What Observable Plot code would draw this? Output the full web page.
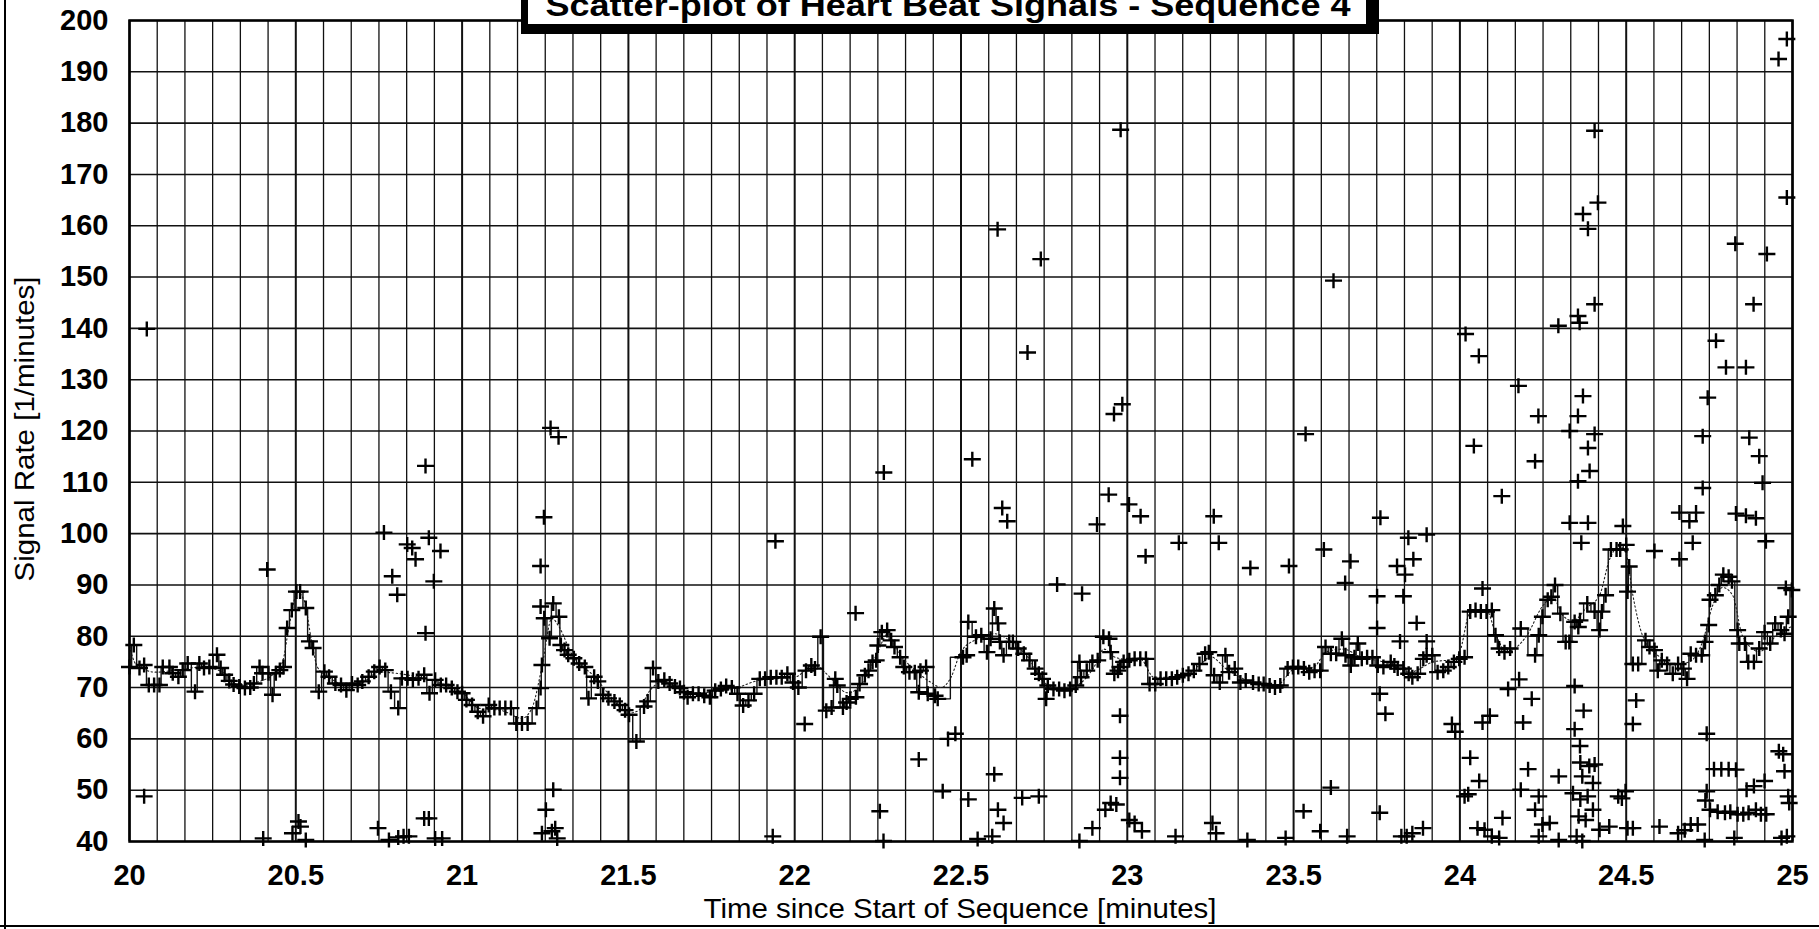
<!DOCTYPE html>
<html><head><meta charset="utf-8">
<script src="https://cdn.jsdelivr.net/npm/d3@7"></script>
<script src="https://cdn.jsdelivr.net/npm/@observablehq/plot@0.6"></script>
<style>
html,body{margin:0;padding:0;background:#fff;}
#chart{position:relative;width:1819px;height:929px;overflow:hidden;background:#fff;}
</style></head><body><div id="chart"></div>
<script>
const titleText = "Scatter-plot of Heart Beat Signals - Sequence 4";
const xAxisTitle = "Time since Start of Sequence [minutes]";
const yAxisTitle = "Signal Rate [1/minutes]";
const xTickValues = [20, 20.5, 21, 21.5, 22, 22.5, 23, 23.5, 24, 24.5, 25];
const xTickLabels = ["20", "20.5", "21", "21.5", "22", "22.5", "23", "23.5", "24", "24.5", "25"];
const yTickValues = [40, 50, 60, 70, 80, 90, 100, 110, 120, 130, 140, 150, 160, 170, 180, 190, 200];
const gridStepsPerMinute = 12; // vertical grid every 5 seconds

// accepted beats [time (min), rate (1/min)]
const mainBeats = [
[20.000,74.0],[20.013,78.3],[20.030,73.8],[20.044,74.4],[20.058,70.5],[20.074,70.5],[20.090,70.5],[20.100,74.0],
[20.120,74.0],[20.130,72.8],[20.147,72.1],[20.160,73.4],[20.175,74.7],[20.197,69.2],[20.210,74.7],[20.224,73.8],
[20.240,74.0],[20.263,76.4],[20.274,73.8],[20.286,72.5],[20.300,71.3],[20.313,70.6],[20.330,70.2],[20.347,69.9],
[20.363,70.0],[20.374,70.8],[20.391,74.0],[20.400,72.8],[20.418,72.8],[20.430,68.6],[20.440,72.8],[20.452,73.4],
[20.463,74.0],[20.474,81.6],[20.488,85.1],[20.502,88.7],[20.513,88.7],[20.530,85.5],[20.541,79.0],[20.552,77.7],
[20.569,69.2],[20.586,73.1],[20.600,72.1],[20.619,70.8],[20.636,70.5],[20.652,69.5],[20.669,70.8],[20.686,70.5],
[20.700,71.2],[20.719,72.1],[20.736,73.1],[20.752,74.0],[20.769,73.4],[20.786,69.2],[20.808,66.0],[20.819,71.8],
[20.836,71.8],[20.852,71.5],[20.869,71.8],[20.886,72.5],[20.902,68.9],[20.919,71.5],[20.936,70.5],[20.952,70.5],
[20.969,69.9],[20.986,69.2],[21.000,68.9],[21.013,67.6],[21.030,66.6],[21.047,65.3],[21.063,64.4],[21.080,66.6],
[21.097,66.0],[21.113,66.0],[21.130,66.0],[21.147,66.0],[21.163,63.0],[21.180,63.0],[21.197,63.0],[21.224,66.0],
[21.236,69.9],[21.240,74.4],[21.247,83.5],[21.263,79.6],[21.274,86.4],[21.291,83.8],[21.297,78.3],[21.308,77.3],
[21.319,76.4],[21.336,75.7],[21.352,74.7],[21.369,74.0],[21.380,67.9],[21.397,72.1],[21.408,71.2],[21.424,68.6],
[21.440,67.9],[21.458,67.3],[21.474,66.6],[21.490,65.6],[21.502,64.7],[21.524,59.5],[21.547,66.3],[21.558,67.3],
[21.574,73.8],[21.590,71.2],[21.608,71.5],[21.624,70.8],[21.640,70.2],[21.655,69.9],[21.667,69.1],[21.678,68.1],
[21.694,68.8],[21.711,68.8],[21.728,68.4],[21.745,68.1],[21.761,69.4],[21.778,69.7],[21.794,70.3],[21.811,70.0],
[21.828,68.8],[21.845,66.5],[21.861,67.5],[21.878,68.8],[21.895,71.7],[21.911,71.7],[21.928,72.0],[21.945,72.0],
[21.961,72.0],[21.978,72.7],[21.995,71.0],[22.011,70.0],[22.034,73.3],[22.050,74.3],[22.061,73.7],[22.078,79.9],
[22.095,65.5],[22.111,66.1],[22.122,71.7],[22.128,70.4],[22.145,66.1],[22.156,67.1],[22.167,67.8],[22.184,68.1],
[22.195,70.7],[22.211,72.4],[22.222,73.3],[22.234,75.0],[22.245,75.3],[22.250,78.2],[22.262,80.8],[22.278,81.2],
[22.290,79.2],[22.300,77.9],[22.317,75.9],[22.328,74.0],[22.345,73.0],[22.361,73.0],[22.373,69.1],[22.378,73.3],
[22.395,74.0],[22.400,68.8],[22.422,68.4],[22.430,67.8],[22.506,75.9],[22.517,76.3],[22.522,82.8],[22.545,79.9],
[22.561,80.2],[22.578,76.9],[22.589,79.5],[22.600,85.4],[22.611,82.5],[22.617,78.9],[22.628,76.3],[22.645,78.9],
[22.656,78.9],[22.672,77.6],[22.689,76.6],[22.706,75.3],[22.723,73.7],[22.734,72.7],[22.745,71.7],[22.756,67.8],
[22.761,70.4],[22.778,69.7],[22.795,69.7],[22.811,69.4],[22.828,69.7],[22.845,70.4],[22.856,75.0],[22.861,72.0],
[22.878,73.3],[22.895,75.0],[22.911,75.3],[22.928,79.9],[22.945,79.5],[22.950,76.9],[22.961,72.7],[22.972,73.3],
[22.978,74.0],[22.989,75.0],[23.006,75.3],[23.022,75.6],[23.039,75.6],[23.056,75.6],[23.067,70.7],[23.084,70.7],
[23.100,71.7],[23.117,71.7],[23.134,71.7],[23.150,72.0],[23.167,72.4],[23.184,72.7],[23.200,73.3],[23.217,74.6],
[23.234,76.6],[23.245,76.9],[23.261,72.4],[23.278,71.0],[23.295,76.3],[23.306,73.0],[23.323,73.7],[23.340,71.0],
[23.356,71.4],[23.378,71.0],[23.395,70.7],[23.410,70.7],[23.428,70.4],[23.444,70.0],[23.460,70.4],[23.482,73.7],
[23.498,74.0],[23.514,74.0],[23.531,73.7],[23.547,73.0],[23.563,73.3],[23.580,73.3],[23.596,77.9],[23.612,76.6],
[23.628,76.6],[23.645,79.5],[23.656,76.3],[23.672,74.3],[23.683,75.9],[23.693,78.6],[23.705,75.6],[23.721,75.9],
[23.737,75.9],[23.753,74.3],[23.770,74.0],[23.792,75.0],[23.803,74.3],[23.813,73.7],[23.830,73.7],[23.846,72.7],
[23.857,72.0],[23.873,72.7],[23.890,75.6],[23.900,76.3],[23.917,76.3],[23.933,73.0],[23.950,73.3],[23.965,74.0],
[23.982,75.0],[23.998,75.6],[24.014,75.9],[24.031,84.8],[24.047,85.1],[24.063,84.8],[24.080,84.8],[24.096,85.1],
[24.107,80.2],[24.118,77.6],[24.134,76.9],[24.151,77.6],[24.183,81.5],[24.226,76.3],[24.237,80.2],[24.248,83.8],
[24.264,87.1],[24.275,87.7],[24.286,90.0],[24.302,84.4],[24.318,78.9],[24.329,78.9],[24.345,82.8],[24.356,81.8],
[24.361,83.1],[24.383,86.4],[24.405,84.8],[24.420,81.2],[24.427,84.8],[24.438,88.0],[24.454,96.9],[24.471,96.9],
[24.482,96.9],[24.500,97.8],[24.504,88.7],[24.509,93.6],[24.520,74.6],[24.536,74.6],[24.558,79.2],[24.570,77.9],
[24.585,77.3],[24.595,73.3],[24.607,75.3],[24.623,74.6],[24.640,72.7],[24.656,74.6],[24.672,73.7],[24.683,71.7],
[24.694,76.6],[24.710,76.3],[24.727,76.3],[24.737,78.9],[24.748,82.2],[24.752,87.1],[24.768,88.0],[24.780,90.0],
[24.792,92.0],[24.808,91.6],[24.818,90.7],[24.835,81.2],[24.840,78.6],[24.857,78.6],[24.867,75.0],[24.884,75.0],
[24.900,77.6],[24.916,80.8],[24.933,78.6],[24.948,82.5],[24.965,81.2],[24.976,80.5],[24.987,83.8],[24.998,89.0]
];

// rejected / artefact detections [time (min), rate (1/min)]
const outlierBeats = [
[20.052,139.9],[20.765,100.2],[20.890,113.2],[20.900,99.2],[21.266,120.6],[21.290,118.8],[21.246,103.2],[22.268,111.9],
[22.534,114.5],[22.610,159.3],[22.624,105.0],[22.639,102.4],[22.700,135.3],[22.740,153.5],[22.909,101.8],[22.944,107.6],
[22.960,123.3],[22.985,125.2],[22.980,178.7],[23.005,105.7],[23.040,103.4],[23.260,103.4],[23.536,119.4],[23.620,149.3],
[23.761,103.1],[23.845,99.2],[23.900,99.8],[24.017,138.9],[24.057,134.6],[24.042,117.1],[24.126,107.3],[24.176,128.8],
[24.236,122.9],[24.226,114.1],[24.296,140.5],[24.360,141.1],[24.370,126.8],[24.355,122.9],[24.330,120.0],[24.405,119.4],
[24.385,116.7],[24.390,112.2],[24.355,110.2],[24.330,102.1],[24.385,102.1],[24.490,101.5],[24.405,178.5],[24.415,164.5],
[24.370,162.3],[24.385,159.4],[24.405,144.7],[24.355,142.4],[24.660,104.1],[24.710,104.1],[24.690,102.4],[24.770,137.6],
[24.800,132.4],[24.860,132.4],[24.745,126.5],[24.730,119.0],[24.730,108.9],[24.870,118.7],[24.900,115.1],[24.910,109.9],
[24.830,103.9],[24.860,103.5],[24.890,103.0],[24.828,156.5],[24.923,154.5],[24.883,144.7],[24.958,192.5],[24.983,196.4],
[24.983,165.5],
[20.414,93.0],[20.835,97.9],[20.850,97.2],[20.860,95.0],[20.935,96.6],[20.915,90.7],[20.790,91.7],[20.805,88.1],
[20.890,80.6],[21.236,93.7],[21.236,85.8],[21.942,98.5],[22.183,84.5],[22.789,90.1],[22.864,88.3],[23.055,95.6],
[23.155,98.2],[23.275,98.2],[23.370,93.3],[23.486,93.7],[23.591,96.9],[23.671,94.6],[23.751,87.8],[23.751,81.6],
[23.811,93.7],[23.655,90.4],[23.860,95.0],[23.835,92.0],[23.830,87.8],[23.870,82.6],[23.820,79.0],[23.900,79.0],
[24.068,89.3],[24.585,96.6],[24.700,98.2],[24.660,95.0],[24.920,98.5],[24.980,89.4],[24.365,98.2],
[20.044,48.8],[20.402,40.6],[20.490,41.6],[20.508,43.9],[20.514,42.9],[20.530,40.3],[20.747,42.6],[20.780,40.3],
[20.808,40.8],[20.824,41.0],[20.840,41.0],[20.886,44.5],[20.900,44.5],[20.919,40.6],[20.940,40.6],[21.274,50.1],
[21.252,46.2],[21.240,41.6],[21.270,42.0],[21.286,40.6],[21.280,42.6],[21.934,41.0],[22.030,62.9],[22.256,45.9],
[22.267,40.1],[22.373,56.0],[22.445,49.8],[22.461,60.0],[22.483,61.0],[22.522,48.2],[22.550,40.5],[22.594,41.0],
[22.600,53.1],[22.611,46.2],[22.628,43.6],[22.684,48.5],[22.734,48.8],[22.856,40.1],[22.895,42.6],[22.934,46.2],
[22.950,47.5],[22.967,47.2],[22.978,64.5],[22.978,56.3],[22.978,52.4],[23.006,44.2],[23.022,43.6],[23.044,42.0],
[23.145,41.0],[23.256,43.6],[23.267,41.6],[23.361,40.3],[23.476,40.7],[23.530,45.9],[23.580,42.0],[23.612,50.5],
[23.661,41.0],[23.759,68.8],[23.776,64.9],[23.759,45.6],[23.824,41.0],[23.840,41.0],[23.857,41.6],[23.889,42.6],
[23.976,62.9],[23.986,61.4],[24.031,56.3],[24.058,51.8],[24.025,49.2],[24.014,48.8],[24.068,63.2],[24.090,64.5],
[24.145,69.7],[24.178,71.6],[24.216,67.8],[24.190,63.2],[24.205,54.1],[24.183,50.1],[24.237,48.8],[24.226,46.2],
[24.128,44.6],[24.053,42.6],[24.074,42.3],[24.096,41.0],[24.118,40.7],[24.248,43.3],[24.270,43.6],[24.237,41.0],
[24.297,40.3],[24.297,52.7],[24.345,70.3],[24.372,65.5],[24.345,61.9],[24.361,58.6],[24.520,62.9],[24.530,67.5],
[24.742,61.0],[24.362,55.4],[24.389,54.7],[24.405,55.0],[24.368,52.7],[24.400,51.4],[24.362,48.2],[24.384,48.8],
[24.357,44.9],[24.378,44.2],[24.400,46.2],[24.351,41.0],[24.368,40.1],[24.420,42.3],[24.449,42.9],[24.340,49.4],
[24.476,48.8],[24.487,48.4],[24.498,49.8],[24.504,42.6],[24.520,42.6],[24.600,42.9],[24.656,41.6],[24.676,42.2],
[24.694,43.3],[24.715,43.3],[24.742,49.8],[24.738,48.0],[24.764,54.1],[24.786,54.1],[24.808,54.1],[24.830,54.0],
[24.752,46.2],[24.775,45.8],[24.797,45.6],[24.813,45.8],[24.835,45.3],[24.852,45.3],[24.868,45.6],[24.890,46.2],
[24.905,45.3],[24.921,45.3],[24.862,50.1],[24.884,50.8],[24.916,51.8],[24.959,57.6],[24.972,57.0],[24.976,53.7],
[24.987,48.8],[24.990,47.5],[24.967,40.7],[24.983,41.0],[24.825,40.7],[24.736,40.3]
];

// dotted trend curve [time (min), rate (1/min)]
const trendCurve = [
[20.0,78],[20.02,74.5],[20.08,73],[20.15,73.5],[20.22,74],[20.28,73],[20.33,70.5],[20.38,71],[20.43,72.5],[20.46,75],
[20.48,82],[20.505,88.5],[20.525,87],[20.545,80],[20.565,74],[20.6,72],[20.65,70.5],[20.7,71],[20.75,73],[20.8,72.8],
[20.87,72],[20.95,70.5],[21.0,69],[21.05,66],[21.12,65.5],[21.18,64],[21.21,66],[21.24,74],[21.27,83.5],[21.29,82],
[21.33,76.5],[21.4,72],[21.45,68],[21.5,65],[21.53,65.5],[21.56,69],[21.6,71],[21.7,69],[21.8,69.5],[21.9,71.5],
[22.0,72],[22.06,74.5],[22.09,73],[22.16,69],[22.21,71.5],[22.25,77],[22.28,80.5],[22.31,77],[22.36,73.5],[22.41,71],
[22.44,70],[22.47,72],[22.5,77],[22.55,79.5],[22.6,80.5],[22.65,79],[22.7,76],[22.75,71],[22.8,69.8],[22.85,70.5],
[22.9,74],[22.93,77.5],[22.96,76],[23.0,75.5],[23.04,75.5],[23.08,72],[23.15,72],[23.22,74.5],[23.25,76],[23.3,73.5],
[23.38,71],[23.45,70.5],[23.5,73.5],[23.56,74],[23.6,77],[23.65,77.5],[23.7,76],[23.77,75],[23.85,73],[23.92,75],
[23.98,75.5],[24.0,77],[24.03,84.5],[24.08,85],[24.11,80],[24.14,77],[24.2,80],[24.25,86],[24.28,87.5],[24.31,84],
[24.34,83],[24.38,85.5],[24.42,88],[24.45,95],[24.48,97.5],[24.5,96],[24.52,88],[24.55,80],[24.6,76],[24.65,74.5],
[24.69,75],[24.73,79],[24.76,86],[24.79,89.5],[24.82,88],[24.85,80],[24.9,77],[24.95,80],[25.0,82]
];

const W = 1819, H = 929;
const FONT = "'Liberation Sans', Arial, Helvetica, sans-serif";
const xGrid = d3.range(0, 5 * gridStepsPerMinute + 1).map(i => 20 + i / gridStepsPerMinute);
const xLabelMap = new Map(xTickValues.map((v, i) => [v, xTickLabels[i]]));
const plusSymbol = {
  draw(ctx) { const rx = 8.5, ry = 7.5; ctx.moveTo(-rx, 0); ctx.lineTo(rx, 0); ctx.moveTo(0, -ry); ctx.lineTo(0, ry); }
};

const chart = Plot.plot({
  width: W, height: H,
  marginLeft: 129, marginRight: 27, marginTop: 20, marginBottom: 88,
  style: {background: "#fff", fontFamily: FONT, color: "#000"},
  x: {domain: [20, 25]},
  y: {domain: [40, 200]},
  marks: [
    Plot.ruleX(xGrid, {stroke: "#111", strokeWidth: d => (Math.abs(d * 2 - Math.round(d * 2)) < 1e-6 ? 2 : 1.3)}),
    Plot.ruleY(yTickValues, {stroke: "#111", strokeWidth: 1.6}),
    Plot.line(trendCurve, {x: d => d[0], y: d => d[1], curve: "monotone-x", stroke: "#222", strokeWidth: 1.1, strokeDasharray: "1.5,2.5"}),
    Plot.line(mainBeats, {x: d => d[0], y: d => d[1], curve: "step", stroke: "#111", strokeWidth: 1.4}),
    Plot.dot(mainBeats, {x: d => d[0], y: d => d[1], symbol: plusSymbol, fill: "none", stroke: "#000", strokeWidth: 2.4}),
    Plot.dot(outlierBeats, {x: d => d[0], y: d => d[1], symbol: plusSymbol, fill: "none", stroke: "#000", strokeWidth: 2.4}),
    Plot.frame({stroke: "#000", strokeWidth: 2.5}),
    Plot.axisX({ticks: xTickValues, tickFormat: d => xLabelMap.get(d), tickSize: 0, tickPadding: 23, fontSize: 29, fontWeight: "bold", fontFamily: FONT, label: null}),
    Plot.axisY({ticks: yTickValues, tickFormat: d => String(d), tickSize: 0, tickPadding: 21, fontSize: 29, fontWeight: "bold", fontFamily: FONT, label: null})
  ]
});
document.getElementById("chart").appendChild(chart);

const svg = d3.select(chart);
// outer page frame
svg.append("line").attr("x1", 5).attr("x2", 5).attr("y1", 0).attr("y2", H).attr("stroke", "#000").attr("stroke-width", 2);
svg.append("line").attr("x1", 0).attr("x2", W).attr("y1", 926).attr("y2", 926).attr("stroke", "#000").attr("stroke-width", 2);
// title box with heavy border
svg.append("rect").attr("x", 521).attr("y", -10).attr("width", 858).attr("height", 44).attr("fill", "#000");
svg.append("rect").attr("x", 528).attr("y", -10).attr("width", 838).attr("height", 34).attr("fill", "#fff");
svg.append("text").attr("x", 948).attr("y", 16).attr("text-anchor", "middle")
  .attr("font-family", FONT).attr("font-size", 32).attr("font-weight", "bold")
  .attr("textLength", 805).attr("lengthAdjust", "spacingAndGlyphs").text(titleText);
// axis titles
svg.append("text").attr("x", 960).attr("y", 918).attr("text-anchor", "middle")
  .attr("font-family", FONT).attr("font-size", 27)
  .attr("textLength", 513).attr("lengthAdjust", "spacingAndGlyphs").text(xAxisTitle);
svg.append("text").attr("transform", "translate(34,429) rotate(-90)").attr("text-anchor", "middle")
  .attr("font-family", FONT).attr("font-size", 27)
  .attr("textLength", 305).attr("lengthAdjust", "spacingAndGlyphs").text(yAxisTitle);
</script>
</body></html>
